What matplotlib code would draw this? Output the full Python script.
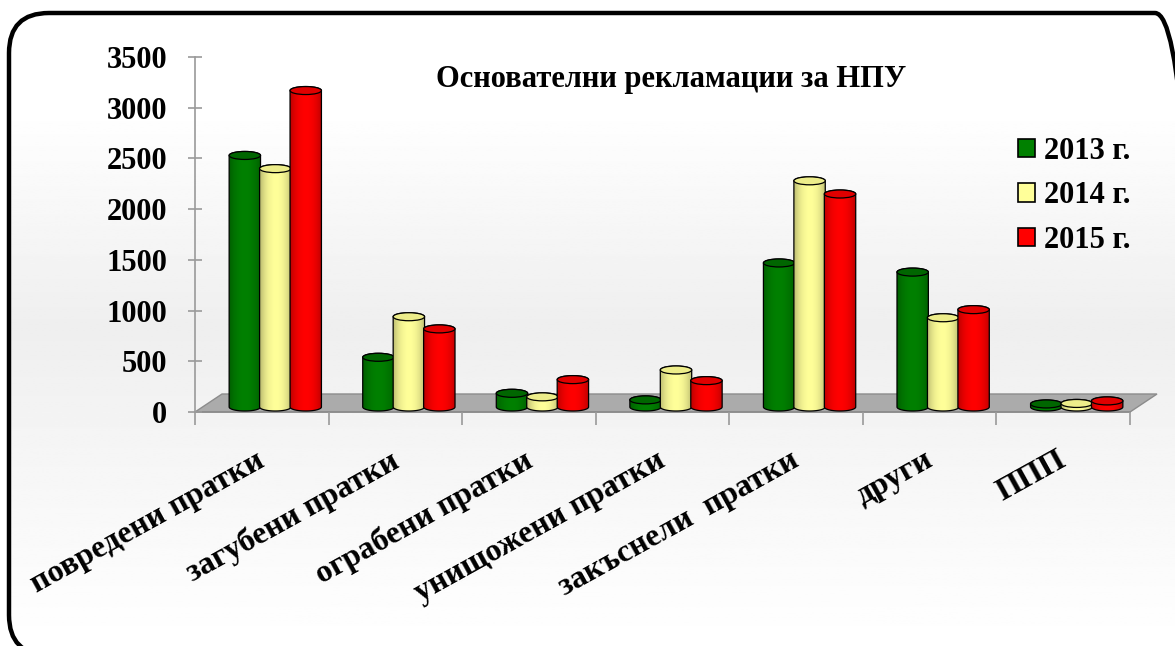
import numpy as np
import matplotlib
matplotlib.use("Agg")
import matplotlib.pyplot as plt
from matplotlib.patches import Polygon, Ellipse, FancyBboxPatch, Patch
from matplotlib.colors import to_rgb

# ------------------------------------------------------------
# data
# ------------------------------------------------------------
categories = ["повредени пратки", "загубени пратки", "ограбени пратки",
              "унищожени пратки", "закъснели  пратки", "други", "ППП"]
series_names = ["2013 г.", "2014 г.", "2015 г."]
values_2013 = [2480, 490, 135, 70, 1420, 1330, 30]
values_2014 = [2350, 890, 100, 365, 2230, 880, 35]
values_2015 = [3120, 770, 270, 260, 2100, 960, 60]
colors = ["#008000", "#FFFF99", "#FF0000"]
top_colors = ["#006600", "#EDED8A", "#E00000"]
y_ticks = [0, 500, 1000, 1500, 2000, 2500, 3000, 3500]

SERIF = "Liberation Serif"
W, H = 1175, 646

fig = plt.figure(figsize=(W / 100, H / 100), dpi=100)

# background + rounded frame (pixel coordinates, y up)
bg = fig.add_axes([0, 0, 1, 1], zorder=0)
bg.set_xlim(0, W)
bg.set_ylim(0, H)
bg.axis("off")
grad_y = np.linspace(0, 1, 300)  # 0 = top of image
shade = np.interp(grad_y, [0, 0.15, 0.5, 0.68, 1.0], [1.0, 1.0, 0.935, 0.96, 1.0])
bg.imshow(np.repeat(shade[:, None], 2, axis=1), cmap="gray", vmin=0, vmax=1,
          extent=[8, W, 0, H - 12], aspect="auto", origin="upper", zorder=0)
frame = FancyBboxPatch((9, -9), 1195 - 9, H - 13 + 9,
                       boxstyle="round,pad=0,rounding_size=40",
                       fc="none", ec="black", lw=3.2, zorder=2)
bg.add_patch(frame)

# main plot area
left, right, top, bottom = 195, 1130, 57, 412
ax = fig.add_axes([left / W, 1 - bottom / H, (right - left) / W, (bottom - top) / H], zorder=1)
ax.patch.set_alpha(0)
n_cat = len(categories)
ax.set_xlim(0, n_cat)
ax.set_ylim(0, 3500)

px_per_cat = (right - left) / n_cat
px_per_val = (bottom - top) / 3500
depth_dx = 27 / px_per_cat
depth_dy = 18 / px_per_val
base_val = 5 / px_per_val

# floor
floor = Polygon([(0, 0), (n_cat, 0), (n_cat + depth_dx, depth_dy), (depth_dx, depth_dy)],
                closed=True, fc="#ABABAB", ec="#8C8C8C", lw=1, zorder=1, clip_on=False)
ax.add_patch(floor)
ax.plot([0, n_cat], [0, 0], color="#8C8C8C", lw=1.2, zorder=1.5, clip_on=False)


def cylinder(ax, xc, w, base, height, color, top_color, z):
    e = 8 / px_per_val
    xl, xr = xc - w / 2, xc + w / 2
    tt = base + height
    th = np.linspace(np.pi, 2 * np.pi, 40)
    bot_x = xc + w / 2 * np.cos(th)
    bot_y = base + e / 2 * np.sin(th)
    th2 = np.linspace(0, np.pi, 40)
    top_x = xc + w / 2 * np.cos(th2)
    top_y = tt + e / 2 * np.sin(th2)
    xs = np.concatenate([[xl], bot_x, [xr], top_x])
    ys = np.concatenate([[tt], bot_y, [tt], top_y])
    ax.add_patch(Polygon(np.c_[xs, ys], closed=True, fc="none", ec="black", lw=0.9,
                         zorder=z + 0.2, clip_on=False))
    # horizontal shading
    t = np.linspace(0, 1, 64)
    k = 0.62 + 0.38 * np.clip(np.sin(np.pi * (t * 0.92 + 0.04)) ** 0.6, 0, 1)
    rgb = np.array(to_rgb(color))
    img = np.clip(rgb[None, :] * k[:, None], 0, 1)
    im = ax.imshow(img[None, :, :], extent=[xl, xr, base - e, tt + e], aspect="auto",
                   zorder=z, interpolation="bilinear")
    im.set_clip_path(Polygon(np.c_[xs, ys], closed=True, transform=ax.transData))
    ax.add_patch(Ellipse((xc, tt), w, e, fc=top_color, ec="black", lw=0.9, zorder=z + 0.3,
                         clip_on=False))


all_values = [values_2013, values_2014, values_2015]
bar_w = 0.235
step = 0.228
for j, vals in enumerate(all_values):
    for i, v in enumerate(vals):
        xc = i + 0.5 + depth_dx / 2 + (j - 1) * step
        cylinder(ax, xc, bar_w, base_val, v, colors[j], top_colors[j], 2 + j)

# axes styling
for s in ["top", "right", "bottom"]:
    ax.spines[s].set_visible(False)
ax.spines["left"].set_color("#9A9A9A")
ax.spines["left"].set_linewidth(1.2)
ax.set_yticks(y_ticks)
ax.set_yticklabels([str(v) for v in y_ticks], fontfamily=SERIF, fontweight="bold", fontsize=22)
ax.tick_params(axis="y", direction="inout", length=10, width=1.2, color="#9A9A9A", pad=15)
ax.set_xticks(np.arange(n_cat + 1))
ax.set_xticklabels([])
ax.tick_params(axis="x", direction="out", length=9, width=1.2, color="#9A9A9A")

for i, name in enumerate(categories):
    ax.annotate(name, xy=(i + 0.5, 0), xycoords="data", xytext=(-6, -34),
                textcoords="offset pixels", ha="right", va="top", rotation=29,
                rotation_mode="anchor", fontfamily=SERIF, fontweight="bold",
                fontsize=23, annotation_clip=False)

fig.text(671 / W, 1 - 80 / H, "Основателни рекламации за НПУ", ha="center", va="center",
         fontfamily=SERIF, fontweight="bold", fontsize=22)

handles = [Patch(fc=c, ec="black", lw=1.2) for c in colors]
fig.legend(handles, series_names, loc="upper left", bbox_to_anchor=(1018 / W, 1 - 137 / H),
           frameon=False, borderpad=0, borderaxespad=0, handlelength=0.55,
           handleheight=0.55, handletextpad=0.3, labelspacing=0.5,
           prop={"family": SERIF, "weight": "bold", "size": 22})

fig.savefig("out.png", dpi=100)
